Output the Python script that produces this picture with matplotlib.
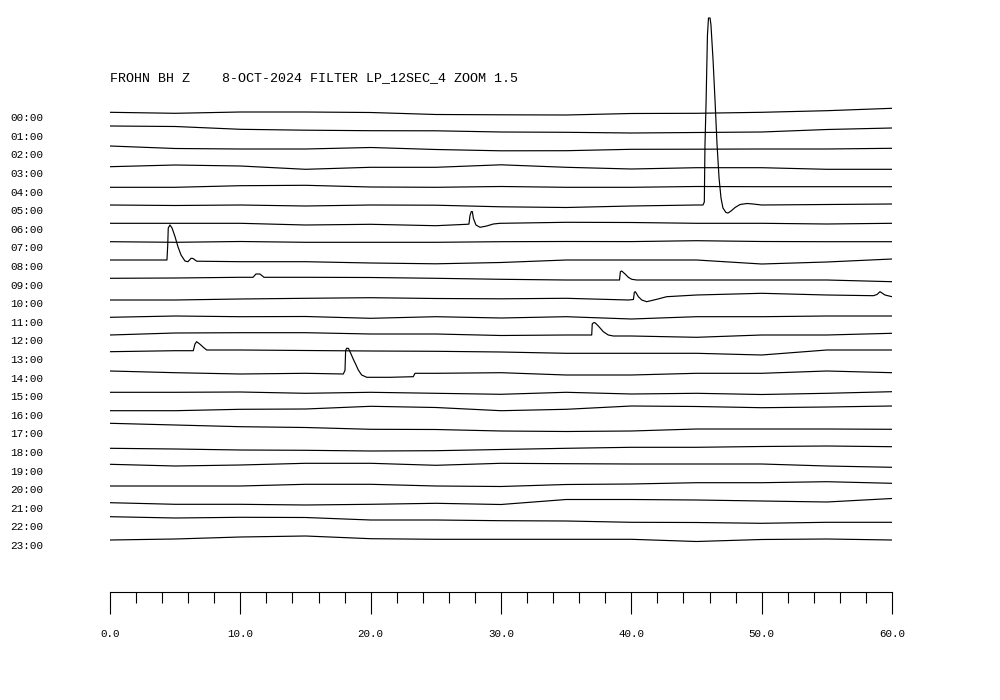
import matplotlib
matplotlib.use("Agg")
import matplotlib.pyplot as plt
import numpy as np

# helicorder: 24 one-hour traces, offsets (amplitude units, up = positive)
title = "FROHN BH Z    8-OCT-2024 FILTER LP_12SEC_4 ZOOM 1.5"
hour_labels = ["%02d:00" % h for h in range(24)]
minutes = [0, 5, 10, 15, 20, 25, 30, 35, 40, 45, 50, 55, 60]

trace_offsets = [
    [-0.3, -1.3, 0, 0, -0.5, -2.5, -2.8, -3, -1.5, -1.3, -0.3, 1.3, 3.7],
    [4.6, 4.1, 1.3, 0.4, -0.1, -0.2, -1.4, -1.7, -2.4, -1.9, -1.4, 1.1, 2.6],
    [3.2, 0.7, 0.2, 0.2, 1.7, -0.3, -1.6, -1.5, -0.1, 0, 0.2, 0.2, 0.9],
    [1.1, 2.8, 1.8, -1.5, 0.5, 0.5, 3.0, 0.5, -1.2, 0.1, 0.1, -1.5, -1.5],
    [-0.9, -0.9, 0.7, 1.1, -0.6, -0.9, -0.1, -0.9, -0.9, -0.1, -0.3, -0.3, -0.3],
    [0, -0.5, 0, -1, 0, -0.2, -1.8, -2.5, -1, 0, 0, 0.5, 1],
    [0.3, 0.3, 0.3, -1.4, -0.7, -2.1, 0.3, 1.3, 1.1, 0.3, 0.3, -0.4, 0.3],
    [0.5, -0.1, 0.7, -0.1, -0.1, -0.1, 0.5, 0.7, 0.6, 1.5, 0.7, 0.5, 0.5],
    [0.8, -0.5, -0.9, -0.9, -2.2, -3, -1.7, 0.8, 0.8, 0.8, -3.2, -1.2, 1.8],
    [1.1, 1.4, 2.1, 2.1, 1.9, 1.1, 0.1, -0.6, -0.6, -0.6, -0.6, -0.6, -2.3],
    [-2, -2, -1, -0.3, 0.3, -0.5, -0.8, -0.3, 1.3, 3, 4.7, 3, 1.3],
    [-0.7, 0.6, -0.1, 0.1, -1.7, -0.1, -1.4, -0.1, -2.4, -0.1, -0.1, 0.6, 0.6],
    [0.2, 2.2, 2.5, 2.5, 1.2, 1.2, -0.3, 0.2, -0.8, -2.1, 0.2, 0.2, 1.9],
    [2.1, 3.1, 3.8, 3.3, 2.8, 2.5, 1.8, 0.5, 0.5, 0.5, -1.2, 3.8, 3.8],
    [1.4, -0.3, -1.6, -0.9, -4.9, -0.9, -0.3, -2.6, -2.6, -0.9, -0.9, 1.4, -0.3],
    [-1.3, -1.3, -1, -2.3, -1.3, -2.3, -3.3, -1.3, -3, -2.3, -3.5, -2.3, -0.7],
    [-1.1, -1.1, 0.3, 0.6, 3.3, 2.1, -1.1, 0.3, 3.6, 3.1, 1.9, 2.6, 3.6],
    [4.9, 3.2, 1.5, 0.7, -1.1, -1.3, -2.8, -3.3, -2.8, -0.8, -0.8, -0.8, -1.1],
    [-1.5, -2.2, -3.2, -3.5, -4.2, -3.9, -2.7, -1.5, -0.5, -0.5, 0.3, 0.8, 0.1],
    [1.1, -0.6, 0.4, 2.1, 2.1, 0.1, 2.1, 1.7, 1.4, 1.4, 1.4, -0.6, -1.9],
    [-2, -2, -2, -0.3, -0.3, -2, -2.5, -0.5, 0, 1.3, 1.3, 2.3, 0.7],
    [-0.1, -1.7, -1.7, -2.4, -1.7, -0.7, -1.9, 3.1, 3.1, 2.6, 1.6, 0.6, 4.1],
    [4.5, 3.2, 3.9, 3.7, 1.2, 1.2, 0.5, 0.2, -1.1, -1.3, -2.1, -1.1, -1.1],
    [-0.2, 0.8, 2.8, 3.8, 1.1, 0.5, 0.5, 0.5, 0.5, -1.7, 0.3, 0.8, -0.2],
]

# events (quakes): trace index, time in minutes, offsets
event_trace = [5, 6, 8, 9, 9, 10, 10, 12, 13, 14]
event_minutes = [
    [45.50, 45.60, 45.65, 45.73, 45.84, 45.92, 46.04, 46.11, 46.27, 46.42, 46.57,
     46.73, 46.88, 47.03, 47.26, 47.42, 47.65, 47.96, 48.34, 48.88, 49.34],
    [27.37, 27.54, 27.62, 27.72, 27.80, 27.88, 28.08, 28.39, 28.90, 29.41, 29.92],
    [4.37, 4.43, 4.47, 4.60, 4.76, 4.99, 5.22, 5.45, 5.75, 5.98, 6.22, 6.37, 6.65],
    [10.97, 11.2, 11.5, 11.82],
    [39.09, 39.16, 39.26, 39.52, 39.77, 40.03, 40.41],
    [39.77, 40.16, 40.23, 40.31, 40.54, 40.80, 41.18, 41.95, 42.71],
    [58.57, 58.85, 59.08, 59.46, 60.0],
    [36.96, 37.0, 37.1, 37.21, 37.47, 37.85, 38.23, 38.62],
    [6.39, 6.52, 6.65, 6.91, 7.16, 7.42],
    [17.9, 18.03, 18.08, 18.16, 18.29, 18.47, 18.67, 18.88, 19.05, 19.31,
     19.7, 21.48, 23.27, 23.4],
]
event_values = [
    [0, 3, 60, 100, 170, 187, 187, 180, 145, 105, 62,
     27, 7, -3, -7.5, -8, -6, -2.5, 0.5, 1.5, 1],
    [-0.7, -0.5, 8, 12, 12, 5.3, -1.4, -3.7, -2.4, -0.4, 0.3],
    [0.8, 15.8, 32.8, 35.8, 32.8, 24.1, 13.8, 5.8, -0.2, -0.9, 2.5, 2.3, -0.4],
    [2.1, 5.4, 5.4, 2.1],
    [-0.6, 7.7, 8.4, 5.4, 2.1, 0.1, -0.6],
    [-2, -1.5, 5.7, 6.3, 1.3, -2, -3.7, -1.3, 1.3],
    [2.3, 3.5, 6.3, 3, 1.3],
    [0.2, 11.2, 12.5, 12.5, 9.2, 3.5, 0.2, -0.8],
    [3.1, 9.8, 12.1, 9.5, 6.5, 3.8],
    [-1.6, 2, 22, 24.1, 24.1, 19.1, 13.1, 7.4, 2.4, -2.6,
     -4.9, -4.9, -4.3, -0.9],
]

spacing = 18.6

fig = plt.figure(figsize=(10, 7), dpi=100)
ax = fig.add_axes([0.11, 108 / 700, 0.782, 592 / 700])

for k in range(24):
    t = list(minutes)
    v = list(trace_offsets[k])
    for tr, em, ev in zip(event_trace, event_minutes, event_values):
        if tr != k:
            continue
        keep = [(a, b) for a, b in zip(t, v) if a < em[0] or a > em[-1]]
        t = [a for a, b in keep] + list(em)
        v = [b for a, b in keep] + list(ev)
    order = np.argsort(t)
    t = np.array(t)[order]
    v = np.array(v)[order]
    ax.plot(t, -k * spacing + v, color="black", lw=0.85)

ax.set_xlim(0, 60)
ax.set_ylim(-480, 112)

for s in ["top", "left", "right"]:
    ax.spines[s].set_visible(False)
ax.spines["bottom"].set_linewidth(0.8)

mono = "Liberation Mono"
ax.set_xticks(np.arange(0, 61, 10))
ax.set_xticks(np.arange(0, 61, 2), minor=True)
ax.set_xticklabels(["%.1f" % x for x in np.arange(0, 61, 10)],
                   fontfamily=mono, fontsize=7.8)
ax.tick_params(axis="x", which="major", direction="out", length=15.5, width=0.8, pad=11)
ax.tick_params(axis="x", which="minor", direction="out", length=8, width=0.8)

ax.set_yticks([-k * spacing - 5.2 for k in range(24)])
ax.set_yticklabels(hour_labels, fontfamily=mono, fontsize=7.9)
ax.tick_params(axis="y", length=0, pad=48)

ax.text(0, 34, title, fontfamily=mono, fontsize=9.6, va="center", ha="left")

fig.savefig("out.png", dpi=100)
